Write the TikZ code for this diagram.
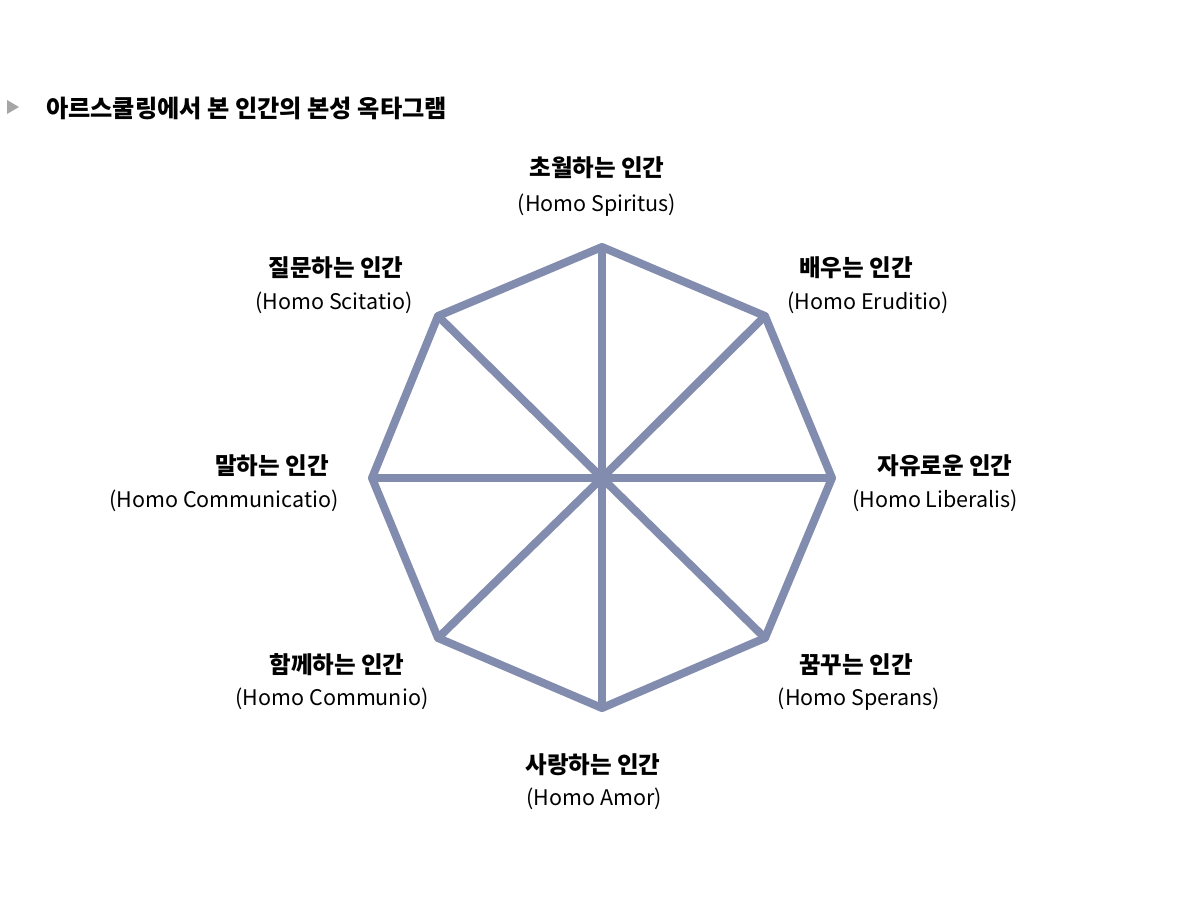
\documentclass[tikz,border=0pt]{standalone}
\usepackage{fontspec}
\setmainfont{Noto Sans CJK KR}
\usetikzlibrary{positioning}
\definecolor{octa}{RGB}{130,140,174}
\tikzstyle{rim} = [draw=octa, line width=8pt, line join=round, line cap=round]
\tikzstyle{kor} = [font=\bfseries\fontsize{23.5}{28}\selectfont, inner sep=0pt]
\tikzstyle{lat} = [font=\fontsize{21.5}{26}\selectfont, inner sep=0pt, yshift=-2pt]

\begin{document}
\begin{tikzpicture}[x=1pt,y=-1pt]
\useasboundingbox (0,0) rectangle (1203,906);
% titulo
\fill[gray!70] (7,100) -- (19,107) -- (7,114) -- cycle;
\node [kor, font=\bfseries\fontsize{24.2}{28}\selectfont, anchor=west] (title) at (46,108) {아르스쿨링에서 본 인간의 본성 옥타그램};
% vertices
\coordinate (c) at (602,478);
\coordinate (vt) at (602,247);
\coordinate (vtr) at (765,316);
\coordinate (vr) at (832,478);
\coordinate (vbr) at (765,638);
\coordinate (vb) at (602,708);
\coordinate (vbl) at (438,638);
\coordinate (vl) at (372,478);
\coordinate (vtl) at (438,316);
% octogono
\foreach \v in {vt,vtr,vr,vbr,vb,vbl,vl,vtl}
  \draw [rim] (c) -- (\v);
\draw [rim] (vt) -- (vtr) -- (vr) -- (vbr) -- (vb) -- (vbl) -- (vl) -- (vtl) -- cycle;
% rotulos
\node [kor] (kt) at (597,168) {초월하는 인간};
\node [lat] (lt) at (597,203) {(Homo Spiritus)};
\node [kor] (ktr) at (856,268) {배우는 인간};
\node [lat] (ltr) at (868,301) {(Homo Eruditio)};
\node [kor] (kr) at (945,466) {자유로운 인간};
\node [lat] (lr) at (935,499) {(Homo Liberalis)};
\node [kor] (kbr) at (856,665) {꿈꾸는 인간};
\node [lat] (lbr) at (859,697) {(Homo Sperans)};
\node [kor] (kb) at (593,765) {사랑하는 인간};
\node [lat] (lb) at (594,797) {(Homo Amor)};
\node [kor] (kbl) at (337,665) {함께하는 인간};
\node [lat] (lbl) at (332,697) {(Homo Communio)};
\node [kor] (kl) at (272,466) {말하는 인간};
\node [lat] (ll) at (224,499) {(Homo Communicatio)};
\node [kor] (ktl) at (336,268) {질문하는 인간};
\node [lat] (ltl) at (334,301) {(Homo Scitatio)};
\end{tikzpicture}
\end{document}
